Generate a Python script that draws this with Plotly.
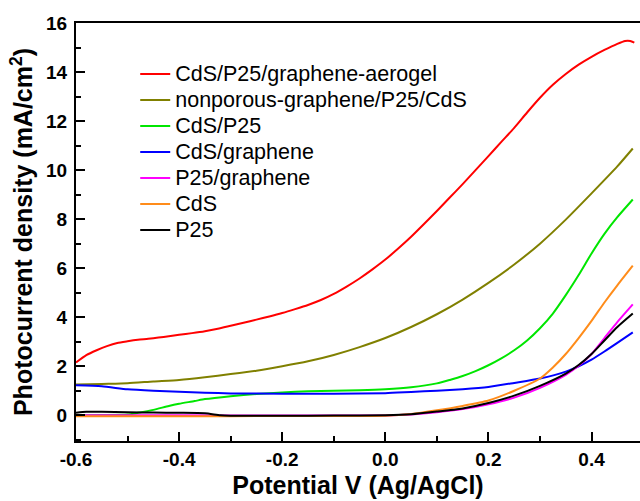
import plotly.graph_objects as go

names = ["CdS/P25/graphene-aerogel", "nonporous-graphene/P25/CdS", "CdS/P25",
         "CdS/graphene", "P25/graphene", "CdS", "P25"]
colors = ["#FF0000", "#808000", "#00E600", "#0000FF", "#FF00FF", "#FF8C1A", "#000000"]

red_x = [-0.6, -0.58, -0.56, -0.54, -0.52, -0.50, -0.48, -0.46, -0.44, -0.42, -0.40, -0.375, -0.35,
         -0.325, -0.30, -0.275, -0.25, -0.225, -0.20, -0.175, -0.15, -0.125, -0.10, -0.075, -0.05,
         -0.025, 0.0, 0.025, 0.05, 0.075, 0.10, 0.125, 0.15, 0.175, 0.20, 0.225, 0.25, 0.275, 0.30,
         0.325, 0.35, 0.375, 0.40, 0.425, 0.45, 0.465, 0.475, 0.483]
red_y = [2.15, 2.45, 2.65, 2.82, 2.95, 3.02, 3.08, 3.12, 3.17, 3.22, 3.28, 3.35, 3.43,
         3.53, 3.65, 3.77, 3.90, 4.03, 4.17, 4.33, 4.50, 4.70, 4.95, 5.25, 5.58,
         5.95, 6.35, 6.80, 7.28, 7.80, 8.33, 8.88, 9.43, 10.0, 10.57, 11.15, 11.72, 12.35, 12.95,
         13.48, 13.92, 14.30, 14.62, 14.90, 15.15, 15.27, 15.27, 15.20]

olive_x = [-0.6, -0.55, -0.50, -0.45, -0.40, -0.35, -0.30, -0.25, -0.20, -0.15, -0.10, -0.05,
           0.0, 0.05, 0.10, 0.15, 0.20, 0.25, 0.30, 0.35, 0.40, 0.45, 0.48]
olive_y = [1.25, 1.28, 1.31, 1.38, 1.44, 1.55, 1.68, 1.82, 2.00, 2.20, 2.46, 2.78,
           3.15, 3.60, 4.12, 4.72, 5.40, 6.15, 7.00, 7.98, 9.05, 10.15, 10.88]

green_x = [-0.6, -0.55, -0.50, -0.48, -0.45, -0.42, -0.40, -0.37, -0.35, -0.30, -0.25, -0.20,
           -0.15, -0.10, -0.05, 0.0, 0.05, 0.10, 0.125, 0.15, 0.175, 0.20, 0.225, 0.25, 0.275,
           0.30, 0.325, 0.35, 0.375, 0.40, 0.425, 0.45, 0.48]
green_y = [0.0, 0.01, 0.03, 0.10, 0.22, 0.38, 0.47, 0.58, 0.66, 0.78, 0.87, 0.93,
           0.98, 1.00, 1.02, 1.06, 1.14, 1.30, 1.44, 1.60, 1.80, 2.04, 2.32, 2.65, 3.05,
           3.55, 4.15, 4.90, 5.72, 6.60, 7.40, 8.08, 8.80]

blue_x = [-0.6, -0.55, -0.50, -0.45, -0.40, -0.35, -0.30, -0.20, -0.10, 0.0, 0.05, 0.10, 0.15,
          0.20, 0.25, 0.30, 0.35, 0.375, 0.40, 0.425, 0.45, 0.48]
blue_y = [1.22, 1.18, 1.06, 1.00, 0.96, 0.92, 0.89, 0.88, 0.88, 0.90, 0.95, 1.00, 1.06,
          1.15, 1.32, 1.50, 1.78, 2.00, 2.27, 2.60, 2.95, 3.38]

mag_x = [-0.6, -0.4, -0.2, 0.0, 0.05, 0.10, 0.15, 0.20, 0.25, 0.30, 0.35, 0.375, 0.40, 0.425,
         0.45, 0.48]
mag_y = [0.0, 0.0, -0.01, -0.01, 0.03, 0.12, 0.25, 0.45, 0.72, 1.12, 1.65, 2.02, 2.50, 3.15,
         3.80, 4.52]

orange_x = [-0.6, -0.4, -0.2, 0.0, 0.05, 0.10, 0.15, 0.20, 0.25, 0.30, 0.325, 0.35, 0.375, 0.40,
            0.425, 0.45, 0.48]
orange_y = [-0.04, -0.04, -0.03, -0.02, 0.05, 0.20, 0.38, 0.60, 1.00, 1.50, 1.95, 2.50, 3.15,
            3.85, 4.60, 5.30, 6.10]

black_x = [-0.6, -0.58, -0.55, -0.50, -0.45, -0.40, -0.35, -0.32, -0.30, -0.20, -0.10, 0.0, 0.05,
           0.10, 0.15, 0.20, 0.25, 0.30, 0.35, 0.375, 0.40, 0.425, 0.45, 0.48]
black_y = [0.10, 0.14, 0.14, 0.12, 0.11, 0.10, 0.08, 0.0, -0.02, -0.02, -0.01, 0.0, 0.04,
           0.15, 0.28, 0.50, 0.80, 1.20, 1.70, 2.05, 2.50, 3.05, 3.60, 4.15]

series = [(red_x, red_y), (olive_x, olive_y), (green_x, green_y), (blue_x, blue_y),
          (mag_x, mag_y), (orange_x, orange_y), (black_x, black_y)]

x_ticks = [-0.6, -0.4, -0.2, 0.0, 0.2, 0.4]
x_labels = ["-0.6", "-0.4", "-0.2", "0.0", "0.2", "0.4"]
y_ticks = [0, 2, 4, 6, 8, 10, 12, 14, 16]

fig = go.Figure()
for (xs, ys), n, c in zip(series, names, colors):
    fig.add_trace(go.Scatter(x=xs, y=ys, mode="lines",
                             name='<span style="font-size:21.5px">' + n + '</span>',
                             line=dict(color=c, width=2, shape="spline", smoothing=0.6)))

FONT = "Liberation Sans, Arial, sans-serif"
fig.update_layout(
    width=640, height=501,
    margin=dict(l=76, r=0, t=23, b=60),
    paper_bgcolor="white", plot_bgcolor="white",
    font=dict(family=FONT, color="black"),
    showlegend=True,
    legend=dict(x=0.105, y=0.921, xanchor="left", yanchor="top",
                bgcolor="rgba(0,0,0,0)", borderwidth=0,
                font=dict(family=FONT, size=17.7, color="black"),
                tracegroupgap=0),
)
fig.update_xaxes(
    range=[-0.6, 0.494], tickvals=x_ticks, ticktext=x_labels,
    showline=True, linecolor="black", linewidth=2, mirror=True,
    ticks="inside", ticklen=9, tickwidth=2, tickcolor="black",
    minor=dict(ticks="inside", ticklen=5, tickwidth=2, dtick=0.1, tickcolor="black"),
    showgrid=False, zeroline=False,
    tickfont=dict(family=FONT, size=19, weight="bold"),
    title=dict(text="Potential V (Ag/AgCl)", font=dict(family=FONT, size=25, weight="bold"),
               standoff=8),
)
fig.update_yaxes(
    range=[-1.05, 16], tickvals=y_ticks,
    showline=True, linecolor="black", linewidth=2,
    ticks="inside", ticklen=9, tickwidth=2, tickcolor="black",
    minor=dict(ticks="inside", ticklen=5, tickwidth=2, dtick=1, tickcolor="black"),
    showgrid=False, zeroline=False, ticklabelstandoff=3,
    tickfont=dict(family=FONT, size=19, weight="bold"),
    title=dict(text="Photocurrent density (mA/cm<sup>2</sup>)",
               font=dict(family=FONT, size=25, weight="bold"), standoff=6),
)
fig.write_html("out.html")
